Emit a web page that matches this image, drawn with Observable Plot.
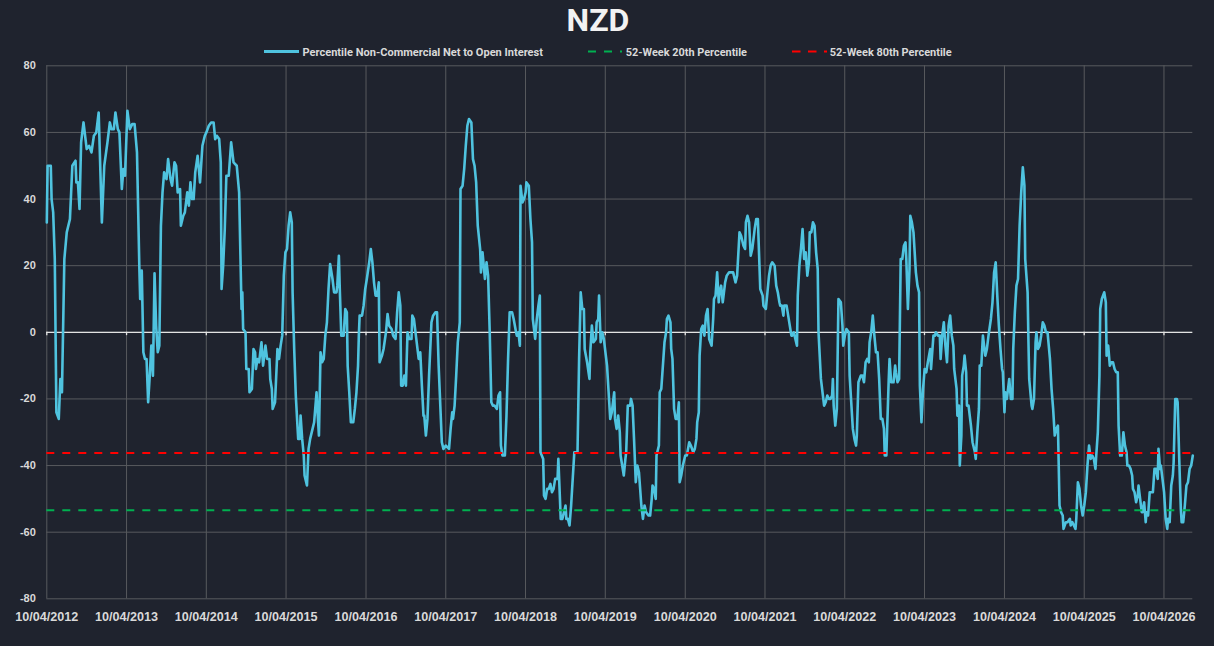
<!DOCTYPE html>
<html>
<head>
<meta charset="utf-8">
<script src="https://cdn.jsdelivr.net/npm/d3@7"></script>
<script src="https://cdn.jsdelivr.net/npm/@observablehq/plot@0.6"></script>
<style>
  html, body { margin: 0; padding: 0; background: #1f232e; }
  #title { width: 1214px; height: 40px; line-height: 40px; text-align: center;
           font-family: Roboto, "Liberation Sans", Arial, sans-serif; font-weight: 700;
           font-size: 32px; color: #f2f2f2; position: relative; left: -9px; }
  #legend svg, #chart svg { display: block; }
</style>
</head>
<body>
<div id="title">NZD</div>
<div id="legend"></div>
<div id="chart"></div>
<script>
// ---- data ----
const startTick = "2012-10-04";            // first x tick, labelled 10/04/2012
const tickLabels = ["10/04/2012","10/04/2013","10/04/2014","10/04/2015","10/04/2016","10/04/2017","10/04/2018",
                    "10/04/2019","10/04/2020","10/04/2021","10/04/2022","10/04/2023","10/04/2024","10/04/2025","10/04/2026"];
const yTicks = [-80, -60, -40, -20, 0, 20, 40, 60, 80];
const seriesNames = ["Percentile Non-Commercial Net to Open Interest", "52-Week 20th Percentile", "52-Week 80th Percentile"];
const percentile20 = -53.4;
const percentile80 = -36.2;
const lastOffsetYears = 14.36;
// [years after the first tick, percentile value]
const series = [
[0.00,33],[0.01,50],[0.05,50],[0.06,40],[0.08,36],[0.10,22],[0.12,-24],[0.15,-26],[0.17,-14],[0.19,-18],[0.22,22],[0.25,30],[0.29,34],[0.32,50],[0.36,51.5],[0.37,45],[0.39,45],[0.41,37],[0.43,57],[0.46,63],[0.50,55],[0.53,56],[0.56,54],[0.59,59],[0.62,60],[0.65,66],[0.69,33],[0.72,50],[0.76,57],[0.79,63],[0.81,61],[0.84,61],[0.86,66],[0.89,61],[0.91,60],[0.94,43],[0.96,49],[0.98,47],[1.01,66.5],[1.04,61],[1.07,62.5],[1.10,62.5],[1.13,54],[1.16,19],[1.17,10],[1.19,18.5],[1.21,-6],[1.23,-8],[1.25,-8],[1.27,-21],[1.29,-13],[1.31,-4],[1.33,-13],[1.35,17.7],[1.37,2],[1.39,-6],[1.41,-4],[1.43,32],[1.45,42],[1.47,48],[1.50,46],[1.52,52],[1.55,46],[1.57,44],[1.60,51],[1.62,50],[1.64,42],[1.67,43],[1.68,32],[1.71,35],[1.73,36],[1.76,42],[1.78,38],[1.80,45],[1.82,40],[1.84,40],[1.86,48],[1.89,53],[1.92,45],[1.95,56],[1.98,59],[2.00,60],[2.03,62],[2.06,63],[2.09,63],[2.11,58],[2.13,59],[2.16,58],[2.18,51],[2.19,13],[2.21,20],[2.23,31],[2.25,47],[2.28,47],[2.31,57],[2.34,51],[2.38,50],[2.41,42],
[2.44,7],[2.45,12],[2.46,1],[2.49,0],[2.50,-11],[2.53,-11],[2.54,-18],[2.57,-17],[2.59,-5],[2.61,-6],[2.62,-11],[2.64,-8],[2.66,-9],[2.69,-3],[2.71,-10],[2.74,-4],[2.76,-8],[2.79,-8],[2.80,-14],[2.82,-17],[2.83,-23],[2.86,-21],[2.89,-5],[2.91,-8],[2.93,-4],[2.95,-1],[2.97,17],[2.99,24],[3.01,25],[3.03,32],[3.05,36],[3.07,33],[3.08,12],[3.10,-5],[3.12,-19],[3.15,-32],[3.17,-32],[3.18,-25],[3.20,-32],[3.22,-37],[3.23,-43],[3.26,-46],[3.28,-35],[3.30,-32],[3.33,-29],[3.35,-27],[3.38,-18],[3.39,-23],[3.41,-31],[3.43,-6],[3.45,-9],[3.47,-8],[3.49,-1],[3.51,3],[3.53,13],[3.55,20.5],[3.58,16],[3.60,12],[3.63,12],[3.64,14],[3.66,23],[3.67,14],[3.69,-1],[3.72,-1],[3.74,7],[3.76,6],[3.77,-10],[3.79,-18],[3.81,-27],[3.84,-27],[3.86,-23],[3.88,-18],[3.90,-10],[3.91,-1],[3.92,5],[3.95,5],[3.97,8],[3.99,13],[4.01,16],[4.04,21],[4.06,25],[4.08,21],[4.10,15],[4.12,11],[4.14,11],[4.16,15],[4.17,-9],[4.20,-7],[4.22,-5],[4.25,0],[4.27,5.5],[4.29,2],[4.32,1],[4.34,-1],[4.37,-2],[4.39,6],[4.41,12],[4.43,8],[4.44,-16],[4.46,-16],[4.48,-13],[4.50,-16],[4.52,0],[4.54,-2],[4.57,-2],[4.58,5],[4.60,4],[4.62,0],[4.64,-4],[4.66,-8],[4.68,-6],[4.70,-16],[4.72,-25],[4.73,-25],[4.75,-31],[4.77,-26],[4.79,-13],[4.82,3],[4.84,5],[4.87,6],[4.89,6],[4.91,-10],
[4.95,-33],[4.97,-35],[5.00,-34],[5.04,-35],[5.06,-29],[5.08,-24],[5.09,-26],[5.11,-22],[5.13,-13],[5.15,-3],[5.175,3],[5.184,43],[5.21,44],[5.23,49],[5.25,56],[5.27,62],[5.29,64],[5.32,63],[5.34,52],[5.36,50],[5.38,45],[5.40,32],[5.43,25],[5.44,18],[5.46,24],[5.49,16],[5.51,21],[5.53,17],[5.55,0],[5.57,-21],[5.59,-22],[5.61,-22],[5.64,-23],[5.66,-19],[5.68,-18],[5.69,-34],[5.71,-37],[5.74,-37],[5.76,-25],[5.78,-8],[5.80,6],[5.83,6],[5.85,4],[5.88,0],[5.89,-1],[5.91,0],[5.928,-4],[5.936,44],[5.96,39],[5.98,40],[6.00,42],[6.01,45],[6.04,44],[6.06,34],[6.08,27],[6.09,4],[6.12,-2],[6.14,4],[6.16,8],[6.178,11],[6.186,-36],[6.22,-38],[6.23,-49],[6.25,-50],[6.27,-47],[6.29,-47],[6.31,-45.5],[6.33,-48],[6.35,-47],[6.37,-44],[6.40,-44],[6.41,-38],[6.42,-44],[6.44,-56],[6.46,-56],[6.48,-54],[6.50,-52],[6.51,-56],[6.53,-56],[6.55,-58],[6.57,-52],[6.60,-40],[6.61,-36],[6.64,-36],[6.65,-36],[6.67,-8],[6.69,12],[6.71,7],[6.73,7],[6.74,-5],[6.77,-9],[6.80,-14],[6.81,-6],[6.83,2],[6.85,-3],[6.88,-2],[6.89,3],[6.91,4],[6.92,11],[6.94,-3],[6.96,0],[6.98,-2],[7.00,-6],[7.02,-10],[7.04,-18],[7.06,-26],[7.08,-24],[7.11,-18],[7.12,-26],[7.14,-29],[7.16,-25],[7.18,-30],[7.19,-37],[7.21,-40],[7.23,-43],[7.25,-38],[7.26,-36],[7.28,-22],[7.31,-22],[7.32,-20],[7.34,-22],[7.36,-33],[7.38,-45],[7.40,-40],[7.42,-42],
[7.45,-52],[7.47,-56],[7.49,-52],[7.51,-54],[7.54,-55],[7.56,-55],[7.58,-50],[7.59,-46],[7.61,-47],[7.63,-50],[7.64,-37],[7.67,-34],[7.68,-18],[7.70,-17],[7.72,-10],[7.74,-3],[7.76,0],[7.77,4],[7.79,5],[7.815,3],[7.824,-5],[7.84,-8],[7.86,-23],[7.88,-26],[7.90,-26],[7.92,-21],[7.93,-45],[7.95,-43],[7.97,-40],[8.00,-37],[8.02,-37],[8.05,-33],[8.07,-34],[8.10,-36],[8.12,-35],[8.14,-32],[8.15,-27],[8.17,-24],[8.18,-7],[8.20,1],[8.22,2],[8.24,-1],[8.26,5],[8.28,7],[8.30,-2],[8.33,-4],[8.35,4],[8.36,10],[8.38,11],[8.40,18],[8.42,9],[8.43,12],[8.45,14],[8.47,9],[8.50,15],[8.52,17],[8.55,18],[8.58,18],[8.60,18],[8.63,15],[8.65,17],[8.68,30],[8.70,29],[8.73,26],[8.75,25],[8.76,33],[8.78,35],[8.80,33],[8.82,23],[8.84,25],[8.87,31],[8.89,34],[8.91,34],[8.93,20],[8.94,13],[8.97,11],[8.98,8],[9.01,7],[9.03,12],[9.05,17],[9.07,20],[9.09,21],[9.12,20],[9.14,14],[9.16,12],[9.18,9],[9.19,8],[9.21,8],[9.23,5],[9.24,8],[9.27,8],[9.29,5],[9.31,2],[9.33,-1],[9.34,-1],[9.36,0],[9.38,-2],[9.40,-4],[9.41,11],[9.43,20],[9.45,25],[9.47,31],[9.49,22],[9.51,24],[9.53,17],[9.55,21],[9.56,30],[9.58,30],[9.60,33],[9.62,32],[9.64,24],[9.66,19],[9.67,0],[9.70,-14],[9.72,-18],[9.74,-22],[9.76,-21],[9.78,-19],[9.80,-20],[9.82,-20],[9.84,-19],[9.85,-14],[9.86,-22],[9.88,-28],[9.90,-23],[9.92,10],[9.95,9],
[9.97,2],[9.98,-4],[10.00,-1],[10.02,1],[10.05,0],[10.06,-13],[10.08,-21],[10.10,-29],[10.12,-32],[10.14,-34],[10.15,-31],[10.17,-15],[10.20,-13],[10.22,-13],[10.24,-15],[10.26,-9],[10.28,-8],[10.30,-9],[10.31,-3],[10.33,0],[10.35,5],[10.37,-1],[10.39,-6],[10.41,-6],[10.43,-14],[10.45,-26],[10.47,-26],[10.49,-29],[10.50,-37],[10.52,-37],[10.53,-29],[10.55,-14],[10.56,-8],[10.58,-15],[10.61,-15],[10.63,-10],[10.64,-12],[10.66,-15],[10.68,-14],[10.70,22],[10.72,22],[10.74,26],[10.76,27],[10.77,22],[10.79,7],[10.81,19],[10.82,35],[10.84,33],[10.86,30],[10.89,18],[10.91,14],[10.93,12],[10.94,-16],[10.96,-27],[10.98,-17],[11.00,-11],[11.02,-12],[11.04,-9],[11.07,-5],[11.08,-11],[11.11,-1],[11.13,-1],[11.14,0],[11.17,-1],[11.19,-1],[11.20,-8],[11.22,-1],[11.24,3],[11.26,-4],[11.28,-9],[11.30,2],[11.32,5],[11.34,-1],[11.36,-4],[11.37,-11],[11.40,-17],[11.41,-25],[11.43,-22],[11.44,-40],[11.46,-31],[11.47,-13],[11.49,-10],[11.50,-7],[11.52,-12],[11.53,-22],[11.55,-22],[11.58,-28],[11.60,-33],[11.62,-35],[11.63,-36],[11.64,-38],[11.66,-30],[11.68,-23],[11.69,-10],[11.71,-10],[11.73,-1],[11.74,-3],[11.76,-7],[11.78,-5],[11.80,-1],[11.83,4],[11.85,9],[11.87,18],[11.89,21],[11.91,11],[11.93,2],[11.95,-5],[11.97,-11],[11.98,-12],[12.00,-24],[12.01,-18],[12.03,-20],[12.06,-14],[12.08,-20],[12.10,-20],[12.11,-5],[12.13,6],[12.15,14],[12.17,16],[12.19,32],[12.21,42],[12.23,49.5],[12.25,44],[12.26,22],[12.29,12],[12.30,-2],[12.31,-14],[12.34,-22],[12.35,-23],
[12.37,-20],[12.39,-3],[12.40,0],[12.42,-5],[12.44,-4],[12.46,-1],[12.48,3],[12.50,2],[12.52,0],[12.54,0],[12.57,-8],[12.59,-17],[12.61,-23],[12.63,-31],[12.65,-29],[12.67,-28],[12.69,-52],[12.71,-54],[12.73,-55],[12.74,-59],[12.77,-57],[12.79,-57],[12.82,-56],[12.83,-58],[12.85,-57],[12.87,-58],[12.89,-59],[12.90,-56],[12.92,-45],[12.94,-47],[12.96,-52],[12.98,-55],[13.00,-52],[13.02,-48],[13.04,-40],[13.06,-34],[13.08,-38],[13.10,-37],[13.12,-38],[13.14,-41],[13.15,-37],[13.17,-30],[13.19,-13],[13.20,7],[13.22,10],[13.25,12],[13.27,9],[13.28,-7],[13.30,-4],[13.32,-10],[13.34,-9],[13.36,-9],[13.38,-11],[13.40,-12],[13.42,-12],[13.43,-28],[13.45,-37],[13.47,-37],[13.49,-30],[13.51,-34],[13.53,-36],[13.54,-40],[13.56,-40],[13.58,-41],[13.60,-43],[13.61,-47],[13.63,-48],[13.65,-51],[13.67,-49],[13.68,-46],[13.70,-50],[13.72,-54],[13.73,-54],[13.75,-51],[13.77,-57],[13.78,-54],[13.80,-55],[13.82,-48],[13.84,-48],[13.86,-48],[13.88,-41],[13.90,-41],[13.92,-44],[13.93,-35],[13.95,-41],[13.96,-40],[13.98,-44],[14.00,-48],[14.02,-56],[14.04,-59],[14.05,-56],[14.07,-57],[14.09,-46],[14.11,-43],[14.12,-39],[14.14,-20],[14.16,-20],[14.17,-21],[14.19,-38],[14.21,-53],[14.22,-57],[14.24,-57],[14.26,-52],[14.28,-46],[14.30,-45],[14.32,-41],[14.34,-40],[14.36,-37]
];

// ---- build ----
const colors = { line: "#4fc3df", p20: "#00b050", p80: "#ff0000", grid: "#585a5e", zero: "#e3e3e3", text: "#d9d9d9" };
const t0 = Date.parse(startTick + "T00:00:00Z");
const YEAR = 365.25 * 864e5;
const toDate = (y) => new Date(t0 + y * YEAR);
const rows = series.map(([y, v]) => ({ date: toDate(y), value: v }));
const tickDates = tickLabels.map((_, i) => new Date(Date.UTC(2012 + i, 9, 4)));
const labelByTime = new Map(tickDates.map((d, i) => [+d, tickLabels[i]]));
const x0 = toDate(0), x1 = toDate(lastOffsetYears);

// legend (above the chart)
const leg = d3.select("#legend").append("svg").attr("width", 1214).attr("height", 20);
const legItems = [
  { name: seriesNames[0], x: 264, w: 35, tx: 302.5, tw: 240.5, color: colors.line, dash: null, sw: 3 },
  { name: seriesNames[1], x: 588, w: 34, tx: 625.8, tw: 121.2, color: colors.p20, dash: "8,8", sw: 2 },
  { name: seriesNames[2], x: 792, w: 35, tx: 829.8, tw: 121.8, color: colors.p80, dash: "8.5,7.5", sw: 2 }
];
legItems.forEach(it => {
  leg.append("line").attr("x1", it.x).attr("x2", it.x + it.w).attr("y1", 11.5).attr("y2", 11.5)
    .attr("stroke", it.color).attr("stroke-width", it.sw).attr("stroke-dasharray", it.dash);
  leg.append("text").attr("x", it.tx).attr("y", 15.5).text(it.name)
    .attr("fill", colors.text).attr("font-family", "Roboto, 'Liberation Sans', Arial, sans-serif")
    .attr("font-weight", 700).attr("font-size", 11.5)
    .attr("textLength", it.tw).attr("lengthAdjust", "spacingAndGlyphs");
});

const chart = Plot.plot({
  width: 1214,
  height: 586,
  marginTop: 5.3,
  marginBottom: 47.7,
  marginLeft: 46.3,
  marginRight: 21.7,
  style: { background: "transparent", color: colors.text, overflow: "visible",
           fontFamily: "'Liberation Sans', Arial, sans-serif" },
  x: { type: "utc", domain: [x0, x1] },
  y: { domain: [-80, 80] },
  marks: [
    Plot.gridX(tickDates, { stroke: colors.grid, strokeOpacity: 1, strokeWidth: 1 }),
    Plot.gridY(yTicks, { stroke: colors.grid, strokeOpacity: 1, strokeWidth: 1 }),
    Plot.ruleY([0], { stroke: colors.zero, strokeWidth: 1.3 }),
    Plot.ruleX(tickDates, { y1: 0, y2: -1, stroke: colors.zero, strokeWidth: 1.3 }),
    Plot.line(rows, { x: "date", y: "value", stroke: colors.line, strokeWidth: 2.6, strokeLinejoin: "round" }),
    Plot.ruleY([percentile20], { stroke: colors.p20, strokeWidth: 2, strokeDasharray: "8,8" }),
    Plot.ruleY([percentile80], { stroke: colors.p80, strokeWidth: 2, strokeDasharray: "8,8" }),
    Plot.axisX(tickDates, { tickSize: 0, tickPadding: 13, tickFormat: d => labelByTime.get(+d),
                            fontSize: 12.6, fontWeight: "bold", fill: colors.text, label: null }),
    Plot.axisY(yTicks, { tickSize: 0, tickPadding: 11, tickFormat: d => String(d),
                         fontSize: 11, fontWeight: "bold", fill: colors.text, label: null })
  ]
});
document.getElementById("chart").appendChild(chart);
</script>
</body>
</html>
